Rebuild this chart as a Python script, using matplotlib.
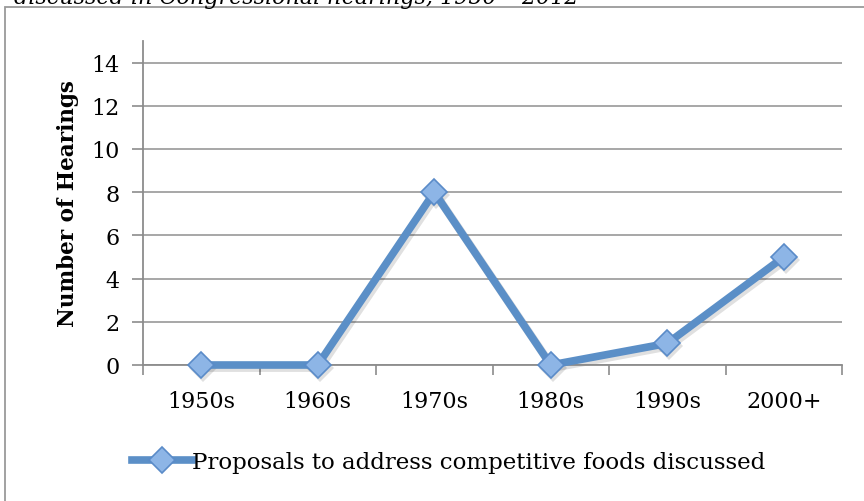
import matplotlib
matplotlib.use("Agg")
import matplotlib.pyplot as plt
from matplotlib.patches import Rectangle
from matplotlib.transforms import ScaledTranslation

decades = ["1950s", "1960s", "1970s", "1980s", "1990s", "2000+"]
hearings = [0, 0, 8, 0, 1, 5]
series_name = "Proposals to address competitive foods discussed"
y_ticks = [0, 2, 4, 6, 8, 10, 12, 14]

plt.rcParams["font.family"] = ["DejaVu Serif"]

W, H = 864, 502
fig = plt.figure(figsize=(W / 100, H / 100), dpi=100)

# outer chart frame
fig.patches.append(Rectangle((5 / W, -0.1), 1.2, 1 - 8 / H + 0.1,
                             transform=fig.transFigure, fill=False,
                             edgecolor="#9a9a9a", linewidth=1.3))

# caption line running above the frame
fig.text(14 / W, 1 - 4 / H, "discussed in Congressional hearings, 1950 \u2013 2012",
         fontsize=16, style="italic", ha="left", va="baseline")

ax = fig.add_axes([143 / W, 1 - 366 / H, 699 / W, 324 / H])
x = list(range(len(decades)))
# soft drop shadow under the series
ax.plot(x, hearings, color="#000000", alpha=0.12, linewidth=6, marker="D",
        markersize=14, markeredgewidth=0, zorder=2, clip_on=False,
        transform=ax.transData + ScaledTranslation(1.5 / 72, -2 / 72, fig.dpi_scale_trans))
line, = ax.plot(x, hearings, color="#5b8fc7", linewidth=5.5, solid_joinstyle="miter",
                marker="D", markersize=13, markerfacecolor="#8db5e6",
                markeredgecolor="#5a8bc8", markeredgewidth=1.2,
                label=series_name, zorder=3, clip_on=False)

ax.set_xlim(-0.5, len(decades) - 0.5)
ax.set_ylim(0, 15)
ax.set_yticks(y_ticks)
ax.set_xticks(x)
ax.set_xticklabels(decades)
ax.set_xticks([i - 0.5 for i in range(len(decades) + 1)], minor=True)
ax.tick_params(axis="x", which="major", length=0, pad=18, labelsize=16)
ax.tick_params(axis="x", which="minor", length=7, width=1.2, color="#8c8c8c", direction="out")
ax.tick_params(axis="y", length=8, width=1.2, color="#8c8c8c", direction="out",
               pad=9, labelsize=16)

ax.grid(axis="y", color="#a0a0a0", linewidth=1.3)
ax.set_axisbelow(True)
for side in ("top", "right"):
    ax.spines[side].set_visible(False)
for side in ("left", "bottom"):
    ax.spines[side].set_color("#8c8c8c")
    ax.spines[side].set_linewidth(1.3)

ax.set_ylabel("Number of Hearings", fontsize=15.5, fontweight="bold", labelpad=9)

fig.legend(handles=[line], loc="center", bbox_to_anchor=(449 / W, 1 - 463 / H),
           frameon=False, fontsize=16.5, handlelength=2.6, handletextpad=0.02,
           borderpad=0)

fig.savefig("out.png", dpi=100)
